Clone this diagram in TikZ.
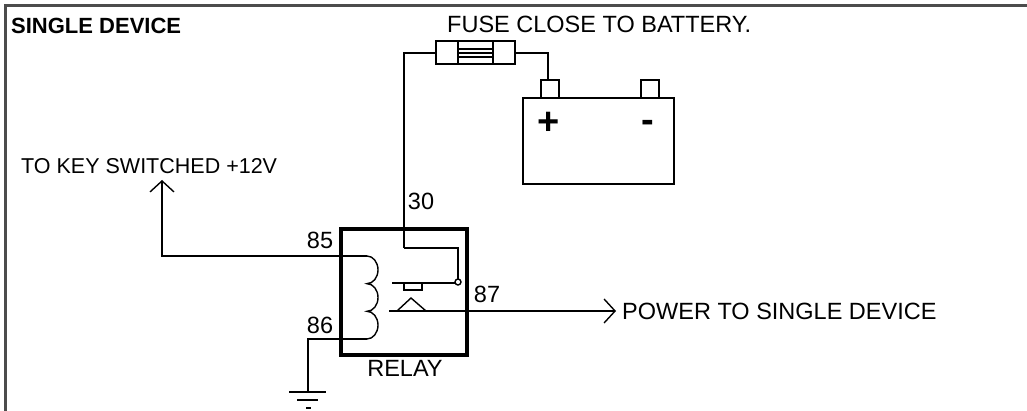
\documentclass[tikz,border=0pt]{standalone}
\usepackage{fontspec}
\setmainfont{Liberation Sans}
\usetikzlibrary{arrows.meta}
\tikzset{
  lbl/.style={inner sep=0pt,font=\fontsize{23.5}{25}\selectfont},
  wire/.style={line width=1.4pt},
  feed/.style={wire,-{Straight Barb[length=11pt,width=24pt,line width=1.4pt]}}
}
\begin{document}
\begin{tikzpicture}[x=1pt,y=-1pt]
      \useasboundingbox (0,0) rectangle (1027,411);
      \draw[line width=2.2pt,black!70] (5.5,411) -- (5.5,5.5) -- (1027,5.5);
      \node[lbl,anchor=west,font=\fontsize{22}{24}\selectfont\bfseries] (title) at (11,26) {SINGLE DEVICE};
      \node[lbl,anchor=west] (fusetxt) at (447,24) {FUSE CLOSE TO BATTERY.};
      \node[lbl,anchor=west,font=\fontsize{21.5}{24}\selectfont] (keytxt) at (21,166) {TO KEY SWITCHED +12V};
      \node[lbl,anchor=west] (powtxt) at (622,311) {POWER TO SINGLE DEVICE};
      \node[lbl] (relaytxt) at (405,368) {RELAY};
      \node[lbl] (p85) at (320,240) {85};
      \node[lbl] (p86) at (320,325) {86};
      \node[lbl] (p87) at (487,294) {87};
      \node[lbl] (p30) at (421,201) {30};
      % relay
      \draw[line width=3.8pt] (341,229) rectangle (467,355);
      \coordinate (c85) at (367,256);
      \coordinate (c86) at (367,339);
      \draw[wire] (c85) arc[start angle=90,end angle=-90,x radius=11pt,y radius=13.83pt]
                        arc[start angle=90,end angle=-90,x radius=11pt,y radius=13.83pt]
                        arc[start angle=90,end angle=-90,x radius=11pt,y radius=13.83pt];
      \coordinate (c30) at (404,248);
      \coordinate (nc) at (458,282);
      \coordinate (no) at (389,311);
      \draw[wire] (c30) -- (458,248) -- (458,279);
      \draw[wire] (nc) circle (3pt);
      \draw[wire] (392,283) -- (455,283);
      \draw[wire] (404,283) rectangle (422,290);
      \draw[wire] (397,311) -- (411,298) -- (426,311);
      % fuse and battery
      \coordinate (fl) at (436,53);
      \coordinate (fr) at (515,53);
      \draw[wire] (436,41) rectangle (515,64);
      \draw[wire] (458,41) -- (458,64) (493,41) -- (493,64);
      \foreach \y in {49,53,57} \draw[wire] (458,\y) -- (493,\y);
      \draw[wire] (523,98) rectangle (674,184);
      \draw[wire] (541,98) -- (541,80) -- (559,80) -- (559,98);
      \draw[wire] (641,98) -- (641,80) -- (659,80) -- (659,98);
      \coordinate (bplus) at (548,80);
      \node[inner sep=0pt,font=\fontsize{38}{38}\selectfont\bfseries] (plus) at (549,123) {+};
      \node[inner sep=0pt,font=\fontsize{38}{38}\selectfont\bfseries] (minus) at (648,126) {-};
      % wiring
      \coordinate (gnd) at (308,392);
      \coordinate (key) at (162,180);
      \coordinate (dev) at (616,311);
      \draw[wire] (fl) -| (c30);
      \draw[wire] (fr) -| (bplus);
      \draw[feed] (c85) -| (key);
      \draw[wire] (c86) -| (gnd);
      \draw[feed] (no) -- (dev);
      \draw[wire] (289,392) -- (326,392) (297,400) -- (318,400) (306,408) -- (311,408);
\end{tikzpicture}
\end{document}
